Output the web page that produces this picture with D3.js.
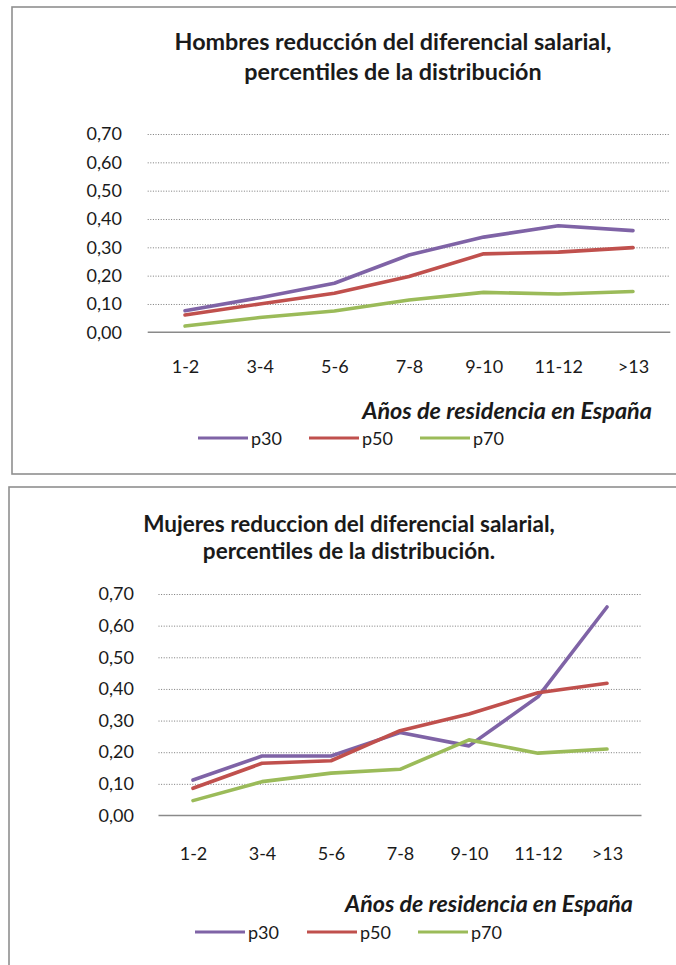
<!DOCTYPE html>
<html>
<head>
<meta charset="utf-8">
<script src="https://cdn.jsdelivr.net/npm/d3@7"></script>
<style>
  html, body { margin: 0; padding: 0; background: #fff; }
  svg { display: block; }
  text { font-family: Lato, "Open Sans", sans-serif; fill: #1a1a1a; }
</style>
</head>
<body>
<script>
// ---- Data ----
const categories = ["1-2", "3-4", "5-6", "7-8", "9-10", "11-12", ">13"];
const seriesNames = ["p30", "p50", "p70"];
const yTicks = [0, 0.1, 0.2, 0.3, 0.4, 0.5, 0.6, 0.7];

const hombresTitle = ["Hombres reducción del diferencial salarial,", "percentiles de la distribución"];
const hombresP30 = [0.076, 0.122, 0.173, 0.273, 0.336, 0.376, 0.359];
const hombresP50 = [0.061, 0.100, 0.138, 0.197, 0.277, 0.283, 0.299];
const hombresP70 = [0.022, 0.052, 0.075, 0.114, 0.141, 0.135, 0.144];

const mujeresTitle = ["Mujeres reduccion del diferencial salarial,", "percentiles de la distribución."];
const mujeresP30 = [0.112, 0.188, 0.188, 0.262, 0.220, 0.375, 0.659];
const mujeresP50 = [0.086, 0.165, 0.173, 0.268, 0.321, 0.388, 0.418];
const mujeresP70 = [0.047, 0.107, 0.134, 0.146, 0.239, 0.197, 0.210];

const xAxisTitle = "Años de residencia en España";

// ---- Styles ----
const colors = { p30: "#7F63A6", p50: "#C0504D", p70: "#9BBB59" };

const W = 676, H = 965;
const svg = d3.select("body").append("svg").attr("width", W).attr("height", H);

function fitFont(textSel, target, base) {
  textSel.style("font-size", base + "px");
  const w = textSel.node().getComputedTextLength();
  const s = base * target / w;
  textSel.style("font-size", s + "px");
  return s;
}

function drawChart(cfg) {
  const g = svg.append("g");
  // frame
  g.append("rect")
    .attr("x", cfg.box.x).attr("y", cfg.box.y)
    .attr("width", cfg.box.w).attr("height", cfg.box.h)
    .attr("fill", "#fff").attr("stroke", "#8f8f8f").attr("stroke-width", 1.6);

  // title
  const t1 = g.append("text").attr("x", cfg.titleX).attr("y", cfg.titleY[0])
    .attr("text-anchor", "middle").attr("dominant-baseline", "central")
    .style("font-weight", "bold").text(cfg.title[0]);
  const fs = fitFont(t1, cfg.titleW, 18);
  g.append("text").attr("x", cfg.titleX).attr("y", cfg.titleY[1])
    .attr("text-anchor", "middle").attr("dominant-baseline", "central")
    .style("font-weight", "bold").style("font-size", fs + "px").text(cfg.title[1]);

  const x = d3.scalePoint().domain(categories).range([cfg.plotX0, cfg.plotX1]).padding(0.5);
  const y = d3.scaleLinear().domain([0, 0.7]).range([cfg.y0, cfg.y70]);

  // gridlines
  const grid = g.append("g").attr("transform", `translate(${cfg.plotX0},0)`)
    .call(d3.axisLeft(y).tickValues(yTicks.slice(1)).tickSize(-(cfg.plotX1 - cfg.plotX0)).tickFormat(""));
  grid.select(".domain").remove();
  grid.selectAll(".tick line").attr("stroke", "#7a7a7a").attr("stroke-width", 1)
    .attr("stroke-dasharray", "1,1.6");

  // y tick labels
  const ya = g.append("g").attr("transform", `translate(${cfg.labelRight},0)`)
    .call(d3.axisLeft(y).tickValues(yTicks).tickSize(0).tickPadding(0)
      .tickFormat(d => d3.format(".2f")(d).replace(".", ",")));
  ya.select(".domain").remove();
  ya.selectAll("text").style("font-size", cfg.fontSize + "px").style("font-family", "Lato, sans-serif")
    .attr("fill", "#1a1a1a");

  // x axis line + labels
  const xa = g.append("g").attr("transform", `translate(0,${cfg.y0})`)
    .call(d3.axisBottom(x).tickSize(0).tickPadding(cfg.xLabelPad).tickSizeOuter(0));
  xa.select(".domain").attr("stroke", "#8a8a8a").attr("stroke-width", 1.6)
    .attr("d", `M${cfg.plotX0},0H${cfg.plotX1}`);
  xa.selectAll("text").style("font-size", cfg.fontSize + "px").style("font-family", "Lato, sans-serif")
    .attr("fill", "#1a1a1a");

  // lines
  const line = d3.line().x((d, i) => x(categories[i])).y(d => y(d));
  cfg.series.forEach((vals, k) => {
    g.append("path").datum(vals).attr("d", line)
      .attr("fill", "none").attr("stroke", colors[seriesNames[k]])
      .attr("stroke-width", 3.6).attr("stroke-linejoin", "round").attr("stroke-linecap", "round");
  });

  // axis title
  const at = g.append("text").attr("x", cfg.axisTitleRight).attr("y", cfg.axisTitleY)
    .attr("text-anchor", "end").attr("dominant-baseline", "central")
    .style("font-weight", "bold").style("font-style", "italic").text(xAxisTitle);
  fitFont(at, cfg.axisTitleW, 19);

  // legend
  seriesNames.forEach((name, k) => {
    const lx = cfg.legendX[k];
    g.append("line").attr("x1", lx).attr("x2", lx + 50)
      .attr("y1", cfg.legendY).attr("y2", cfg.legendY)
      .attr("stroke", colors[name]).attr("stroke-width", 3);
    g.append("text").attr("x", lx + 53).attr("y", cfg.legendY)
      .attr("dominant-baseline", "central")
      .style("font-size", cfg.fontSize + "px").text(name);
  });
}

drawChart({
  box: { x: 12, y: 7, w: 700, h: 467 },
  title: hombresTitle, titleX: 393, titleY: [41, 71], titleW: 437,
  plotX0: 147.7, plotX1: 670.3, y0: 332.3, y70: 134,
  labelRight: 122, fontSize: 18, xLabelPad: 28,
  series: [hombresP30, hombresP50, hombresP70],
  axisTitleRight: 652, axisTitleY: 410, axisTitleW: 290,
  legendX: [198, 309, 420], legendY: 438
});

drawChart({
  box: { x: 9, y: 487, w: 700, h: 520 },
  title: mujeresTitle, titleX: 349, titleY: [523, 550], titleW: 412,
  plotX0: 158.5, plotX1: 641.5, y0: 815.5, y70: 594,
  labelRight: 134, fontSize: 18, xLabelPad: 32,
  series: [mujeresP30, mujeresP50, mujeresP70],
  axisTitleRight: 633, axisTitleY: 903, axisTitleW: 288,
  legendX: [195, 307, 418], legendY: 932
});
</script>
</body>
</html>
